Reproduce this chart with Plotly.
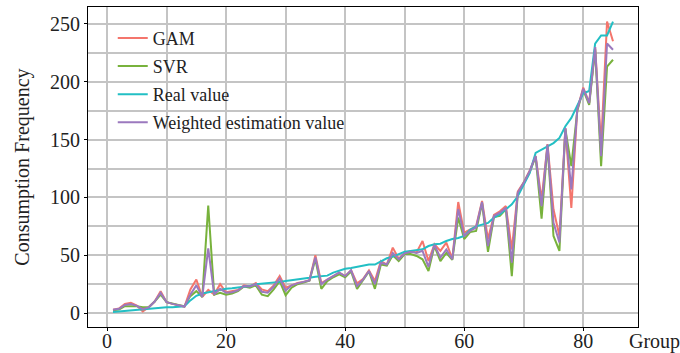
import plotly.graph_objects as go

groups = list(range(1, 86))

real_value = [1, 1.5, 2, 2, 2.5, 3, 3.5, 4, 4.5, 5,
              5, 5.5, 6, 11, 15, 17, 18, 19.5, 20.5, 21,
              21.4, 22, 23, 23.4, 25, 25.4, 25.7, 26, 27, 27.7,
              28.3, 29, 30, 30.6, 31.5, 32, 32.4, 35, 37, 38.4,
              39, 40, 41, 42, 42, 45, 47.4, 48.8, 50.6, 53,
              53.8, 54.3, 55.2, 58, 59.5, 60, 62.4, 64, 65, 66.7,
              72, 75, 76.7, 78, 82.5, 85.3, 89.7, 94, 101, 111,
              121, 138.5, 141.4, 144, 147, 151.4, 161.5, 168.7, 178.7, 190,
              192, 233, 240, 240, 252]

gam = [3, 4, 8, 9, 6.5, 1.5, 5, 10, 19, 9.5,
       8, 6.5, 5.5, 20.5, 29, 14, 20, 16, 25, 18,
       19, 20, 24, 23, 26, 20.5, 19, 24, 32, 22,
       24, 26, 27, 28.5, 50, 26, 29, 32, 35, 32,
       37, 25.7, 29.5, 37, 27.7, 45, 42, 56.6, 47, 52,
       53.5, 52.5, 62.4, 45, 59.5, 53.8, 61, 47, 96, 69.5,
       72, 75, 97, 64, 85, 88, 92.5, 55, 105, 113,
       123, 136, 98, 146, 89.7, 66.7, 160, 91, 176, 195,
       182, 230, 145, 252, 235]

svr = [2.5, 3, 6, 6, 6, 5, 5, 10, 16, 9.5,
       8, 7, 6, 14.7, 19, 14, 93, 16, 17.6, 16,
       17, 19, 23, 22, 24, 16, 14.7, 20.5, 27.7, 15.5,
       22, 25, 26.5, 28, 46.5, 21, 27.7, 31, 33.5, 31,
       36, 21, 28.5, 36, 21, 42, 41, 50, 45, 51,
       51, 49.4, 46.5, 36.4, 58, 45, 52, 46, 82.6, 64,
       70, 71, 95, 53, 83, 84, 89.7, 32, 103, 112,
       122, 135, 81.6, 145, 66.7, 53.7, 159, 127, 175, 193,
       180, 228, 127, 213, 219]

weighted = [3, 3.7, 7, 7.8, 6.3, 3.4, 5, 10, 17.5, 9.5,
            8, 6.6, 5.7, 16, 24, 14, 56, 16, 21, 17.6,
            18, 19.6, 23.4, 23, 25, 18.5, 17.6, 23, 30, 19.5,
            24, 25.7, 27, 28.3, 48, 25, 29, 32, 35, 32,
            37, 23.4, 29, 36.4, 25, 43.6, 42, 52, 46.5, 51.7,
            53, 52, 53.8, 40, 59, 48, 55, 46.5, 90, 66.7,
            71, 74, 96, 58, 84, 86.8, 91, 43.7, 104, 112.6,
            122.7, 135.6, 92.5, 145.7, 78, 61, 160, 107, 176, 194,
            181.6, 230, 135.6, 233, 227.6]

series = [
    ("GAM", gam, "#F4756C"),
    ("SVR", svr, "#78B23C"),
    ("Real value", real_value, "#22BFC4"),
    ("Weighted estimation value", weighted, "#9B79BE"),
]

FONT = "Liberation Serif, Times New Roman, serif"

fig = go.Figure()
for name, vals, col in series:
    fig.add_trace(go.Scatter(x=groups, y=vals, mode="lines", name=name,
                             legendgroup=name,
                             line=dict(color=col, width=2)))

axis_common = dict(
    showline=True, linecolor="black", linewidth=1, mirror=True,
    showgrid=True, gridcolor="#C4C4C4", gridwidth=1.5,
    ticks="outside", ticklen=3, tickcolor="black", tickwidth=1,
    zeroline=False, automargin=False,
    tickfont=dict(family=FONT, size=20, color="#222222"),
)

fig.update_xaxes(range=[-3.2, 89.2], tick0=0, dtick=20, ticklabelstandoff=-7,
                 minor=dict(dtick=10, showgrid=True, gridcolor="#C4C4C4", gridwidth=1.5, ticks=""),
                 **axis_common)
fig.update_yaxes(range=[-12, 264.6], tick0=0, dtick=50,
                 minor=dict(dtick=25, showgrid=True, gridcolor="#C4C4C4", gridwidth=1.5, ticks=""),
                 **axis_common)

fig.update_layout(
    width=680, height=353,
    margin=dict(l=88, r=42, t=7, b=26),
    paper_bgcolor="white", plot_bgcolor="white",
    font=dict(family=FONT, color="#222222"),
    showlegend=True,
    legend=dict(x=0.045, y=0.96, xanchor="left", yanchor="top",
                bgcolor="rgba(0,0,0,0)", borderwidth=0,
                font=dict(family=FONT, size=18, color="#222222"),
                itemwidth=30, tracegroupgap=1.7),
    annotations=[
        dict(text="Consumption Frequency", xref="paper", yref="paper",
             x=(21.7 - 88) / 550, y=0.5, xanchor="center", yanchor="middle",
             textangle=-90, showarrow=False,
             font=dict(family=FONT, size=20, color="#222222")),
        dict(text="Group", xref="paper", yref="paper",
             x=(627 - 88) / 550, y=(327 - 341) / 320, xanchor="left", yanchor="middle",
             showarrow=False,
             font=dict(family=FONT, size=20, color="#222222")),
    ],
)

fig.write_html("out.html", config={"displayModeBar": False},
               post_script="document.body.style.margin='0';document.body.style.padding='0';")
